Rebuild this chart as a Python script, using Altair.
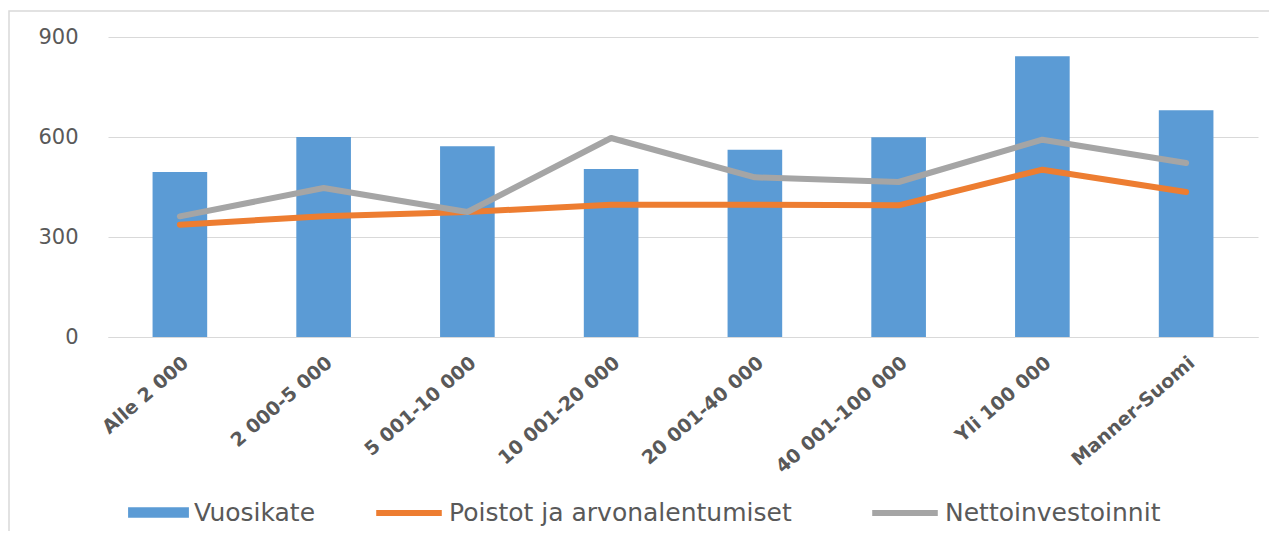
import altair as alt
import pandas as pd

categories = ["Alle 2 000", "2 000-5 000", "5 001-10 000", "10 001-20 000",
              "20 001-40 000", "40 001-100 000", "Yli 100 000", "Manner-Suomi"]
vuosikate = [495, 600, 572, 504, 562, 599, 842, 680]
poistot = [337, 362, 375, 397, 397, 395, 502, 435]
netto = [362, 447, 375, 597, 479, 465, 592, 522]

bar_name = "Vuosikate"
line_names = ["Poistot ja arvonalentumiset", "Nettoinvestoinnit"]

bar_df = pd.DataFrame({"cat": categories, "value": vuosikate, "series": bar_name})
line_df = pd.concat([
    pd.DataFrame({"cat": categories, "value": poistot, "series": line_names[0], "ord": 0}),
    pd.DataFrame({"cat": categories, "value": netto, "series": line_names[1], "ord": 1}),
])

FONT = "DejaVu Sans"
TXT = "#595959"

x_enc = alt.X("cat:N", sort=categories, title=None,
              scale=alt.Scale(type="band", paddingInner=0.62, paddingOuter=0.31),
              axis=alt.Axis(labelAngle=-41, labelFont=FONT, labelFontSize=19,
                            labelFontWeight="bold", labelColor=TXT, labelPadding=16,
                            ticks=False, domain=True, domainColor="#D9D9D9",
                            labelLimit=300))
y_enc = alt.Y("value:Q", title=None,
              scale=alt.Scale(domain=[0, 900], nice=False),
              axis=alt.Axis(values=[0, 300, 600, 900], labelFont=FONT, labelFontSize=21,
                            labelColor=TXT, labelPadding=30, ticks=False, domain=False,
                            grid=True, gridColor="#D9D9D9", gridWidth=1))

frame = alt.Chart(pd.DataFrame({"k": [0]})).mark_rect(
    fill=None, stroke="#D9D9D9", strokeWidth=1.5
).encode(x=alt.value(-99), x2=alt.value(1175), y=alt.value(-26), y2=alt.value(600))

bars = alt.Chart(bar_df).mark_bar().encode(
    x=x_enc, y=y_enc,
    fill=alt.Fill("series:N", scale=alt.Scale(domain=[bar_name], range=["#5B9BD5"]),
                  legend=alt.Legend(orient="none", legendX=20, legendY=445, title=None,
                                    direction="horizontal",
                                    symbolType="M-1,-0.17H1V0.17H-1Z", symbolSize=3700,
                                    symbolStrokeWidth=0,
                                    labelFont=FONT, labelFontSize=25, labelColor=TXT,
                                    labelOffset=5, labelLimit=500)),
)

lines = alt.Chart(line_df).mark_line(strokeWidth=6, strokeCap="round", strokeJoin="round").encode(
    x=x_enc, y=y_enc,
    stroke=alt.Stroke("series:N", sort=line_names,
                      scale=alt.Scale(domain=line_names, range=["#ED7D31", "#A5A5A5"]),
                      legend=alt.Legend(orient="none", legendX=265, legendY=440, title=None,
                                        direction="horizontal", symbolType="stroke",
                                        symbolSize=4300, symbolStrokeWidth=6,
                                        labelFont=FONT, labelFontSize=25, labelColor=TXT,
                                        labelOffset=4, columnPadding=68, labelLimit=500)),
    order=alt.Order("ord:Q"),
)

chart = alt.layer(frame, bars, lines).resolve_scale(fill="independent", stroke="independent").properties(
    width=1150, height=300,
    autosize=alt.AutoSizeParams(type="none"),
    padding={"left": 100, "top": 29, "right": 11, "bottom": 194},
    background="white",
).configure_view(stroke=None)

chart.save("out.html", embed_options={"renderer": "svg", "actions": False})
